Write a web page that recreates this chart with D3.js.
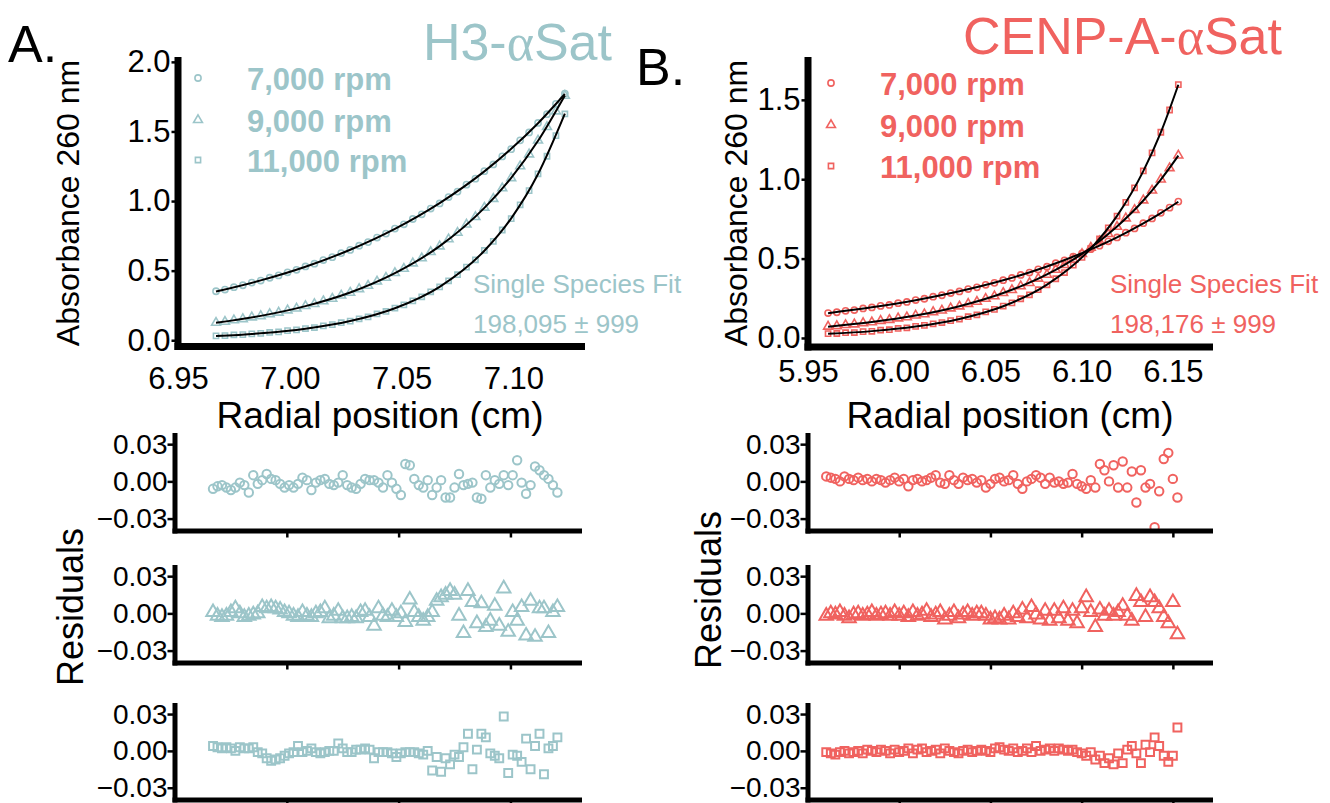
<!DOCTYPE html>
<html>
<head>
<meta charset="utf-8">
<script src="https://cdn.jsdelivr.net/npm/d3@7"></script>
<style>
body { margin: 0; background: #fff; }
</style>
</head>
<body>
<script>
var blue = "#9cc5c9", red = "#f0625f";
var font = "'Liberation Sans', Arial, sans-serif";
var speeds = ["7,000 rpm", "9,000 rpm", "11,000 rpm"];

// ---- panel A (H3-aSat) absorbance scans ----
var radialA = [6.967,6.971,6.975,6.979,6.983,6.987,6.991,6.995,6.999,7.003,7.007,7.011,7.015,7.019,7.023,7.027,7.031,7.035,7.039,7.043,
  7.047,7.051,7.055,7.059,7.063,7.067,7.071,7.075,7.079,7.083,7.087,7.091,7.095,7.099,7.103,7.107,7.111,7.115,7.119,7.123];
var absA7000 = [0.352,0.364,0.381,0.395,0.414,0.429,0.449,0.466,0.488,0.506,0.530,0.550,0.576,0.597,0.626,0.649,0.679,0.705,0.738,0.766,
  0.802,0.833,0.871,0.905,0.946,0.983,1.029,1.068,1.118,1.161,1.215,1.263,1.321,1.373,1.436,1.493,1.561,1.624,1.698,1.772];
var absA9000 = [0.126,0.133,0.144,0.152,0.165,0.174,0.188,0.199,0.215,0.228,0.246,0.261,0.281,0.299,0.322,0.342,0.368,0.392,0.422,0.449,
  0.483,0.514,0.553,0.589,0.634,0.675,0.726,0.773,0.832,0.886,0.953,1.016,1.092,1.165,1.251,1.336,1.435,1.532,1.645,1.757];
var absA11000 = [0.031,0.033,0.038,0.040,0.046,0.049,0.056,0.060,0.069,0.074,0.084,0.091,0.103,0.112,0.126,0.137,0.154,0.168,0.189,0.207,
  0.231,0.254,0.283,0.312,0.348,0.383,0.427,0.471,0.525,0.578,0.645,0.710,0.792,0.874,0.973,1.075,1.196,1.322,1.470,1.626];
// single species fit (knots)
var fitRadialA = [6.967,6.987,7.007,7.027,7.047,7.067,7.087,7.099,7.111,7.123];
var fitA7000 = [0.350,0.430,0.528,0.650,0.800,0.985,1.213,1.375,1.559,1.769];
var fitA9000 = [0.125,0.175,0.245,0.343,0.482,0.676,0.951,1.167,1.433,1.759];
var fitA11000 = [0.030,0.050,0.083,0.138,0.230,0.384,0.643,0.876,1.194,1.628];

// ---- panel B (CENP-A-aSat) ----
var radialB = [5.961,5.9658,5.9706,5.9754,5.9802,5.985,5.9898,5.9946,5.9994,6.0042,6.009,6.0138,6.0186,6.0234,6.0282,6.033,6.0378,6.0426,6.0474,6.0522,
  6.057,6.0618,6.0666,6.0714,6.0762,6.081,6.0858,6.0906,6.0954,6.1002,6.105,6.1098,6.1146,6.1194,6.1242,6.129,6.1338,6.1386,6.1434,6.1482,6.153];
var absB7000 = [0.157,0.162,0.171,0.176,0.186,0.192,0.202,0.208,0.219,0.227,0.239,0.247,0.260,0.269,0.283,0.293,0.308,0.319,0.335,0.347,
  0.364,0.378,0.397,0.412,0.432,0.449,0.471,0.489,0.513,0.533,0.559,0.581,0.609,0.633,0.663,0.690,0.723,0.753,0.788,0.821,0.859];
var absB9000 = [0.072,0.075,0.082,0.086,0.094,0.099,0.108,0.114,0.124,0.131,0.142,0.150,0.163,0.173,0.187,0.199,0.215,0.228,0.247,0.263,
  0.284,0.302,0.326,0.347,0.374,0.399,0.430,0.460,0.495,0.529,0.569,0.609,0.655,0.701,0.754,0.807,0.867,0.929,0.999,1.070,1.150];
var absB11000 = [0.027,0.028,0.033,0.034,0.040,0.042,0.049,0.052,0.060,0.064,0.073,0.079,0.089,0.097,0.109,0.119,0.134,0.146,0.164,0.180,
  0.201,0.221,0.247,0.272,0.304,0.335,0.373,0.412,0.459,0.507,0.564,0.624,0.694,0.768,0.854,0.946,1.052,1.166,1.296,1.436,1.596];
var fitRadialB = [5.961,5.985,6.009,6.033,6.057,6.081,6.105,6.1194,6.1338,6.1434,6.153];
var fitB7000 = [0.156,0.193,0.238,0.294,0.363,0.450,0.558,0.634,0.722,0.787,0.858];
var fitB9000 = [0.071,0.100,0.141,0.200,0.283,0.400,0.568,0.702,0.866,0.998,1.149];
var fitB11000 = [0.026,0.043,0.072,0.120,0.200,0.336,0.563,0.769,1.051,1.295,1.595];

// ---- residuals ----
var resRadialA = [6.967,6.969,6.971,6.973,6.975,6.977,6.979,6.981,6.983,6.985,6.987,6.989,6.991,6.993,6.995,6.997,6.999,7.001,7.003,7.005,
  7.007,7.009,7.011,7.013,7.015,7.017,7.019,7.021,7.023,7.025,7.027,7.029,7.031,7.033,7.035,7.037,7.039,7.041,7.043,7.045,
  7.047,7.049,7.051,7.053,7.055,7.057,7.059,7.061,7.063,7.065,7.067,7.069,7.071,7.073,7.075,7.077,7.079,7.081,7.083,7.085,
  7.087,7.089,7.091,7.093,7.095,7.097,7.099,7.101,7.103,7.105,7.107,7.109,7.111,7.113,7.115,7.117,7.119,7.121];
var resA7000 = [-0.006,-0.004,-0.003,-0.005,-0.007,-0.005,-0.001,-0.003,-0.009,0.005,-0.002,0.001,0.006,0.002,0.001,-0.002,-0.005,-0.003,-0.005,-0.002,
  0.003,0.001,-0.007,-0.001,0.001,0.002,-0.002,-0.003,-0.001,0.005,-0.003,-0.005,-0.006,-0.002,0.002,0.001,0.001,-0.001,-0.005,0.005,
  -0.001,-0.006,-0.011,0.014,0.013,0.002,-0.003,-0.005,0.001,-0.011,-0.005,0.001,-0.013,-0.013,-0.005,0.006,-0.003,-0.002,-0.001,-0.013,
  -0.014,0.005,-0.005,0.001,-0.002,0.005,-0.003,0.005,0.017,-0.001,-0.010,-0.003,0.012,0.009,0.005,0.002,-0.003,-0.009];
var resA9000 = [0.001,-0.002,-0.003,-0.002,0.001,0.004,0.000,-0.003,-0.002,-0.001,0.000,0.005,0.004,0.005,0.004,0.003,0.001,0.000,-0.002,-0.003,
  0.001,-0.002,-0.003,0.000,0.001,0.004,-0.004,-0.002,0.002,-0.004,-0.004,-0.003,-0.004,0.001,0.002,-0.003,-0.010,0.004,-0.002,-0.003,
  0.002,-0.003,0.000,-0.007,0.011,0.001,-0.003,-0.006,-0.003,0.001,0.010,0.013,0.015,0.018,0.015,-0.002,-0.016,0.018,0.009,-0.008,
  0.008,-0.011,-0.006,0.006,-0.010,0.020,-0.015,0.001,-0.006,0.005,-0.018,0.010,-0.019,0.004,0.004,-0.016,0.001,0.005];
var resA11000 = [0.004,0.003,0.002,0.003,0.002,0.000,0.003,0.002,0.002,0.003,-0.001,-0.002,-0.006,-0.008,-0.007,-0.006,-0.004,-0.002,-0.001,0.004,
  -0.001,0.000,0.002,-0.001,-0.002,-0.001,0.000,0.000,0.006,0.002,-0.001,-0.001,0.001,0.001,0.002,0.001,-0.006,-0.001,-0.001,-0.001,
  -0.002,-0.005,-0.002,-0.001,-0.001,-0.001,-0.002,-0.003,0.000,-0.016,-0.005,-0.017,-0.006,-0.011,-0.003,-0.005,0.003,0.014,-0.015,0.001,
  0.014,0.011,-0.002,-0.004,-0.006,0.028,-0.018,-0.003,-0.004,-0.009,0.010,-0.015,0.004,0.014,-0.019,0.002,0.004,0.011];

var resRadialB = [5.960,5.9625,5.965,5.9675,5.970,5.9725,5.975,5.9775,5.980,5.9825,5.985,5.9875,5.990,5.9925,5.995,5.9975,6.000,6.0025,6.005,6.0075,
  6.010,6.0125,6.015,6.0175,6.020,6.0225,6.025,6.0275,6.030,6.0325,6.035,6.0375,6.040,6.0425,6.045,6.0475,6.050,6.0525,6.055,6.0575,
  6.060,6.0625,6.065,6.0675,6.070,6.0725,6.075,6.0775,6.080,6.0825,6.085,6.0875,6.090,6.0925,6.095,6.0975,6.100,6.1025,6.105,6.1075,
  6.110,6.1125,6.115,6.1175,6.120,6.1225,6.125,6.1275,6.130,6.1325,6.135,6.1375,6.140,6.1425,6.145,6.1475,6.150,6.1525];
var resB7000 = [0.004,0.003,0.002,0.000,0.004,0.002,0.001,0.003,0.001,0.002,0.000,0.002,0.001,-0.001,0.001,0.003,0.000,0.002,-0.004,0.001,
  0.002,0.000,0.001,0.003,0.005,-0.001,-0.002,0.005,0.001,-0.002,0.003,0.001,0.002,-0.001,0.001,-0.005,-0.002,0.002,0.003,0.000,
  0.001,0.005,-0.002,-0.006,0.000,0.002,0.005,0.003,-0.002,0.003,-0.001,0.000,-0.002,-0.001,0.006,-0.002,-0.004,-0.006,0.001,-0.005,
  0.014,0.009,0.000,0.013,-0.005,0.016,-0.005,0.008,-0.017,0.009,-0.005,-0.002,-0.037,-0.008,0.018,0.023,0.002,-0.013];
var resB9000 = [-0.002,0.000,-0.001,0.001,-0.002,-0.004,-0.001,0.000,-0.002,-0.001,0.001,-0.002,-0.001,0.000,-0.002,0.001,-0.002,0.000,-0.003,0.001,
  -0.002,-0.001,0.002,-0.003,-0.001,0.001,-0.005,-0.002,0.001,-0.004,-0.001,0.001,-0.002,0.000,0.000,-0.002,-0.005,-0.004,-0.005,-0.002,
  -0.005,0.000,-0.003,0.003,-0.004,0.005,-0.001,-0.005,0.002,-0.006,0.002,-0.004,0.004,-0.006,0.002,-0.008,0.004,0.013,0.001,-0.011,
  0.003,-0.002,0.002,-0.002,0.001,0.006,-0.002,-0.006,0.014,0.009,-0.003,0.013,0.009,0.004,-0.003,-0.008,0.009,-0.017];
var resB11000 = [-0.001,-0.002,-0.003,-0.001,0.000,-0.002,-0.001,0.000,-0.002,0.001,0.000,-0.001,0.001,0.000,-0.002,0.001,-0.001,0.000,0.002,-0.002,
  0.001,0.002,-0.001,0.000,0.001,-0.002,0.002,0.000,-0.001,-0.002,0.000,0.001,-0.001,0.000,0.001,0.000,-0.001,0.002,0.003,0.001,
  0.000,0.002,-0.001,0.000,0.002,-0.001,0.004,0.000,0.001,0.002,0.000,0.002,0.001,0.000,0.001,-0.001,-0.002,-0.004,-0.001,-0.007,
  -0.004,-0.010,-0.006,-0.011,-0.002,-0.010,0.001,0.004,-0.002,-0.010,0.005,-0.001,0.011,0.004,-0.004,-0.009,-0.004,0.019];

// tick labels
var xTicksA = [6.95, 7.00, 7.05, 7.10];
var xTicksB = [5.95, 6.00, 6.05, 6.10, 6.15];
var yTicksA = [0, 0.5, 1.0, 1.5, 2.0];
var yTicksB = [0, 0.5, 1.0, 1.5];
var resXTicksA = [7.00, 7.05, 7.10];
var resXTicksB = [6.00, 6.05, 6.10, 6.15];
var resYTicks = [-0.03, 0, 0.03];

var svg = d3.select("body").append("svg").attr("width", 1330).attr("height", 803);
var shapes = [d3.symbolCircle, d3.symbolTriangle, d3.symbolSquare];
var smallSize = [30, 34, 27];

function styleAxis(g, size) {
  g.attr("font-size", size).attr("font-family", font);
  g.select(".domain").remove();
  g.selectAll(".tick line").attr("stroke", "#000").attr("stroke-width", 2.5);
  g.selectAll(".tick text").attr("fill", "#000");
}

function topPanel(p) {
  var x = d3.scaleLinear().domain(p.xDomain).range(p.xRange);
  var y = d3.scaleLinear().domain(p.yDomain).range(p.yRange);
  var g = svg.append("g");

  // data markers
  p.abs.forEach(function(vals, s) {
    g.selectAll("path.m" + s)
      .data(p.radial.map(function(r, i) { return [r, vals[i]]; }))
      .enter().append("path")
        .attr("class", "m" + s)
        .attr("d", d3.symbol().type(shapes[s]).size(smallSize[s]))
        .attr("transform", function(d) { return "translate(" + x(d[0]) + "," + y(d[1]) + ")"; })
        .attr("fill", "none").attr("stroke", p.color).attr("stroke-width", 1.6);
  });

  // fit curves
  var line = d3.line().x(function(d) { return x(d[0]); }).y(function(d) { return y(d[1]); }).curve(d3.curveMonotoneX);
  p.fit.forEach(function(vals) {
    g.append("path")
      .datum(p.fitRadial.map(function(r, i) { return [r, vals[i]]; }))
      .attr("d", line).attr("fill", "none").attr("stroke", "#000").attr("stroke-width", 2);
  });

  // axes
  var ya = g.append("g").attr("transform", "translate(" + p.xRange[0] + ",0)")
    .call(d3.axisLeft(y).tickValues(p.yTicks).tickFormat(d3.format(".1f")).tickSize(6.5).tickPadding(1));
  styleAxis(ya, 31);
  var xa = g.append("g").attr("transform", "translate(0," + p.yRange[0] + ")")
    .call(d3.axisBottom(x).tickValues(p.xTicks).tickFormat(d3.format(".2f")).tickSize(0).tickPadding(p.xPad));
  styleAxis(xa, 31);

  g.append("line").attr("x1", p.xRange[0]).attr("x2", p.xRange[0])
    .attr("y1", p.yRange[1]).attr("y2", p.yRange[0] + 3.5)
    .attr("stroke", "#000").attr("stroke-width", 7);
  g.append("line").attr("x1", p.xRange[0] - 3.5).attr("x2", p.xRange[1])
    .attr("y1", p.yRange[0]).attr("y2", p.yRange[0])
    .attr("stroke", "#000").attr("stroke-width", 7);

  // legend
  speeds.forEach(function(name, s) {
    g.append("path").attr("d", d3.symbol().type(shapes[s]).size(smallSize[s]))
      .attr("transform", "translate(" + p.legX + "," + p.legY[s] + ")")
      .attr("fill", "none").attr("stroke", p.color).attr("stroke-width", 1.6);
    g.append("text").text(name)
      .attr("x", p.legX + 49).attr("y", p.legY[s] + 12)
      .attr("font-family", font).attr("font-size", 31).attr("font-weight", "bold")
      .attr("fill", p.color);
  });

  g.append("text").text("Single Species Fit")
    .attr("x", p.fitX).attr("y", 293).attr("font-family", font).attr("font-size", 26).attr("fill", p.color);
  g.append("text").text(p.mw)
    .attr("x", p.fitX).attr("y", 333).attr("font-family", font).attr("font-size", 26).attr("fill", p.color);

  g.append("text").text("Absorbance 260 nm")
    .attr("transform", "translate(" + p.yLabX + ",203) rotate(-90)")
    .attr("text-anchor", "middle").attr("font-family", font).attr("font-size", 32);
  g.append("text").text("Radial position (cm)")
    .attr("x", p.xLabX).attr("y", 428)
    .attr("text-anchor", "middle").attr("font-family", font).attr("font-size", 37);
}

function residPanels(p) {
  var x = d3.scaleLinear().domain(p.xDomain).range(p.xRange);
  var tops = [433, 565, 703], bottoms = [531, 663, 800];
  p.res.forEach(function(vals, s) {
    var y = d3.scaleLinear().domain([-0.04, 0.039]).range([bottoms[s], tops[s]]);
    var g = svg.append("g");
    g.selectAll("path")
      .data(p.radial.map(function(r, i) { return [r, vals[i]]; }))
      .enter().append("path")
        .attr("d", d3.symbol().type(shapes[s]).size(s == 0 ? 56 : (s == 1 ? 78 : 62)))
        .attr("transform", function(d) { return "translate(" + x(d[0]) + "," + y(d[1]) + ")"; })
        .attr("fill", "none").attr("stroke", p.color).attr("stroke-width", 2);

    var ya = g.append("g").attr("transform", "translate(" + p.xRange[0] + ",0)")
      .call(d3.axisLeft(y).tickValues(resYTicks).tickFormat(d3.format(".2f")).tickSize(7.5).tickPadding(0));
    styleAxis(ya, 28);
    var xa = g.append("g").attr("transform", "translate(0," + bottoms[s] + ")")
      .call(d3.axisBottom(x).tickValues(p.xTicks).tickSize(6.5).tickFormat(""));
    styleAxis(xa, 28);

    g.append("line").attr("x1", p.xRange[0]).attr("x2", p.xRange[0])
      .attr("y1", tops[s]).attr("y2", bottoms[s] + 2.5)
      .attr("stroke", "#000").attr("stroke-width", 5);
    g.append("line").attr("x1", p.xRange[0] - 2.5).attr("x2", p.xRange[1])
      .attr("y1", bottoms[s]).attr("y2", bottoms[s])
      .attr("stroke", "#000").attr("stroke-width", 5);
  });
  svg.append("text").text("Residuals")
    .attr("transform", "translate(" + p.labX + "," + p.labY + ") rotate(-90)")
    .attr("text-anchor", "middle").attr("font-family", font).attr("font-size", 36);
}

topPanel({
  radial: radialA, abs: [absA7000, absA9000, absA11000],
  fitRadial: fitRadialA, fit: [fitA7000, fitA9000, fitA11000],
  xDomain: [6.95, 7.132], xRange: [178, 585], yDomain: [-0.045, 2.035], yRange: [346.5, 57],
  xTicks: xTicksA, yTicks: yTicksA, xPad: 20, color: blue,
  legX: 198, legY: [78, 120, 160], fitX: 473, mw: "198,095 \u00b1 999",
  yLabX: 79, xLabX: 380
});
topPanel({
  radial: radialB, abs: [absB7000, absB9000, absB11000],
  fitRadial: fitRadialB, fit: [fitB7000, fitB9000, fitB11000],
  xDomain: [5.95, 6.172], xRange: [808, 1213], yDomain: [-0.057, 1.77], yRange: [347, 57],
  xTicks: xTicksB, yTicks: yTicksB, xPad: 13, color: red,
  legX: 831, legY: [83, 125, 166], fitX: 1110, mw: "198,176 \u00b1 999",
  yLabX: 747, xLabX: 1010
});

residPanels({
  radial: resRadialA, res: [resA7000, resA9000, resA11000],
  xDomain: [6.95, 7.132], xRange: [175, 582], xTicks: resXTicksA, color: blue,
  labX: 83, labY: 607
});
residPanels({
  radial: resRadialB, res: [resB7000, resB9000, resB11000],
  xDomain: [5.95, 6.172], xRange: [808, 1213], xTicks: resXTicksB, color: red,
  labX: 721, labY: 590
});

// titles and panel letters
svg.append("text").text("A.").attr("x", 8).attr("y", 62)
  .attr("font-family", font).attr("font-size", 52);
svg.append("text").text("B.").attr("x", 636).attr("y", 85)
  .attr("font-family", font).attr("font-size", 52);

var t1 = svg.append("text").attr("x", 612).attr("y", 60).attr("text-anchor", "end")
  .attr("font-family", font).attr("font-size", 52).attr("fill", blue);
t1.append("tspan").text("H3-");
t1.append("tspan").text("\u03b1").attr("font-family", "'Liberation Serif', serif");
t1.append("tspan").text("Sat");

var t2 = svg.append("text").attr("x", 1282).attr("y", 54).attr("text-anchor", "end")
  .attr("font-family", font).attr("font-size", 52).attr("fill", red);
t2.append("tspan").text("CENP-A-");
t2.append("tspan").text("\u03b1").attr("font-family", "'Liberation Serif', serif");
t2.append("tspan").text("Sat");
</script>
</body>
</html>
